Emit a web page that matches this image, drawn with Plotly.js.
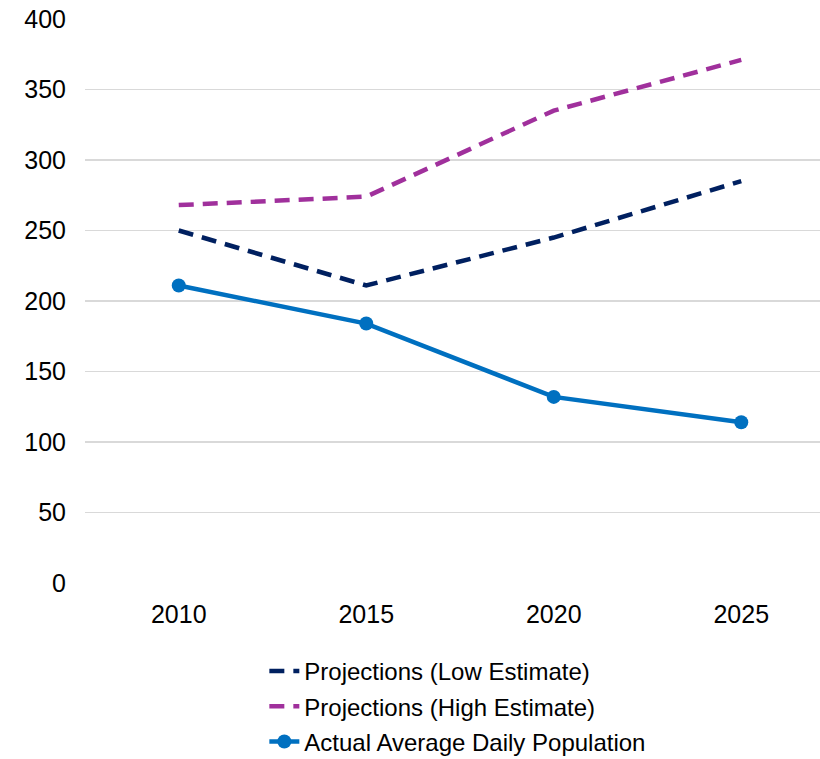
<!DOCTYPE html>
<html>
<head>
<meta charset="utf-8">
<script src="https://cdn.plot.ly/plotly-3.0.1.min.js"></script>
<style>html,body{margin:0;padding:0;background:#fff;}#chart{width:820px;height:759px;}</style>
</head>
<body>
<div id="chart"></div>
<script>
const years = ['2010', '2015', '2020', '2025'];
const lowEstimate = [250, 211, 245, 285];
const highEstimate = [268, 274, 335, 371];
const actualPopulation = [211, 184, 132, 114];
const yTicks = [0, 50, 100, 150, 200, 250, 300, 350, 400];

const FONT = 'Liberation Sans, Arial, sans-serif';

const traces = [
  {
    x: years, y: lowEstimate, type: 'scatter', mode: 'lines',
    name: 'Projections (Low Estimate)', legendgroup: 'a',
    line: {color: '#002060', width: 4.5, dash: '15px,9px'},
    hoverinfo: 'skip'
  },
  {
    x: years, y: highEstimate, type: 'scatter', mode: 'lines',
    name: 'Projections (High Estimate)', legendgroup: 'b',
    line: {color: '#A0309C', width: 4.5, dash: '15px,9px'},
    hoverinfo: 'skip'
  },
  {
    x: years, y: actualPopulation, type: 'scatter', mode: 'lines+markers',
    name: 'Actual Average Daily Population', legendgroup: 'c',
    line: {color: '#0070C0', width: 4.5},
    marker: {color: '#0070C0', size: 14},
    hoverinfo: 'skip'
  }
];

const layout = {
  width: 820, height: 759,
  margin: {l: 85, r: 0, t: 19, b: 176, autoexpand: false},
  paper_bgcolor: '#ffffff', plot_bgcolor: '#ffffff',
  font: {family: FONT, color: '#000000', size: 24},
  showlegend: true,
  legend: {
    orientation: 'v', x: 0.244, xanchor: 'left', y: -0.117, yanchor: 'top',
    font: {family: FONT, size: 24, color: '#000000'},
    traceorder: 'grouped', tracegroupgap: 1,
    bgcolor: 'rgba(0,0,0,0)', borderwidth: 0
  },
  xaxis: {
    type: 'category', range: [-0.5, 3.42],
    showgrid: false, zeroline: false, showline: false,
    ticks: '', ticklabelstandoff: 14,
    tickfont: {family: FONT, size: 25, color: '#000000'},
    fixedrange: true
  },
  yaxis: {
    range: [0, 400], tickvals: yTicks, ticktext: yTicks.map(String),
    showgrid: true, gridcolor: '#d9d9d9', gridwidth: 1.5,
    zeroline: false, showline: false, ticks: '',
    ticklabelstandoff: 18,
    tickfont: {family: FONT, size: 25, color: '#000000'},
    fixedrange: true
  }
};

Plotly.newPlot('chart', traces, layout, {displayModeBar: false, staticPlot: true});
</script>
</body>
</html>
